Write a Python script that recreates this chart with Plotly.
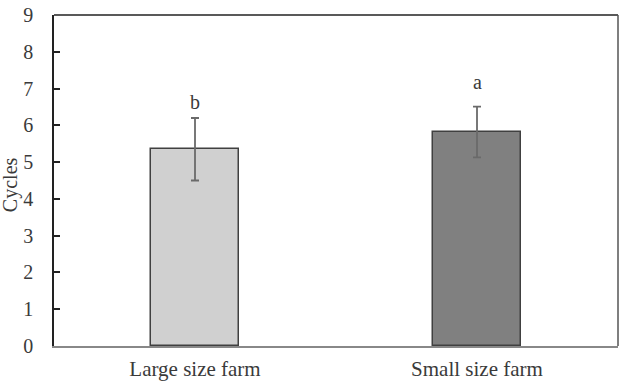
import plotly.graph_objects as go

categories = ["Large size farm", "Small size farm"]
means = [5.35, 5.82]
errors = [0.85, 0.69]
letters = ["b", "a"]
y_ticks = [0, 1, 2, 3, 4, 5, 6, 7, 8, 9]

bar_colors = ["#d0d0d0", "#808080"]
font_family = "Liberation Serif, Times New Roman, serif"
text_color = "#3a3a3a"

fig = go.Figure()
fig.add_trace(go.Bar(
    x=categories,
    y=means,
    width=0.31,
    marker=dict(color=bar_colors, line=dict(color="#404040", width=1.5)),
    error_y=dict(type="data", array=errors, visible=True,
                 color="#6a6a6a", thickness=1.8, width=4),
    showlegend=False,
))

label_shift = [3, 12]
for cat, m, e, lab, s in zip(categories, means, errors, letters, label_shift):
    fig.add_annotation(x=cat, y=m + e, text=lab, showarrow=False,
                       yanchor="bottom", yshift=s,
                       font=dict(family=font_family, size=20, color=text_color))

fig.add_annotation(xref="paper", yref="paper", x=-0.078, y=0.486,
                   text="Cycles", textangle=-90, showarrow=False,
                   xanchor="center", yanchor="middle",
                   font=dict(family=font_family, size=20, color=text_color))

# top and right frame lines
fig.add_shape(type="line", xref="paper", yref="paper", x0=0, x1=1, y0=1, y1=1,
              line=dict(color="#222222", width=1.5))
fig.add_shape(type="line", xref="paper", yref="paper", x0=1, x1=1, y0=0, y1=1,
              line=dict(color="#555555", width=1.5))

fig.update_layout(
    width=626, height=381,
    margin=dict(l=54, r=8, t=15, b=35, autoexpand=False),
    paper_bgcolor="white", plot_bgcolor="white",
    bargap=0,
    xaxis=dict(
        range=[-0.5, 1.5],
        showline=True, linecolor="#888888", linewidth=1.5,
        ticks="", showgrid=False, zeroline=False, automargin=False,
        tickfont=dict(family=font_family, size=21, color=text_color),
        ticklabelstandoff=3,
    ),
    yaxis=dict(
        range=[0, 9],
        tickvals=y_ticks,
        showline=True, linecolor="#222222", linewidth=1.5,
        ticks="inside", ticklen=6, tickcolor="#222222", tickwidth=1.5,
        showgrid=False, zeroline=False, automargin=False,
        tickfont=dict(family=font_family, size=20, color=text_color),
        ticklabelstandoff=15,
    ),
)

fig.write_html("out.html")
